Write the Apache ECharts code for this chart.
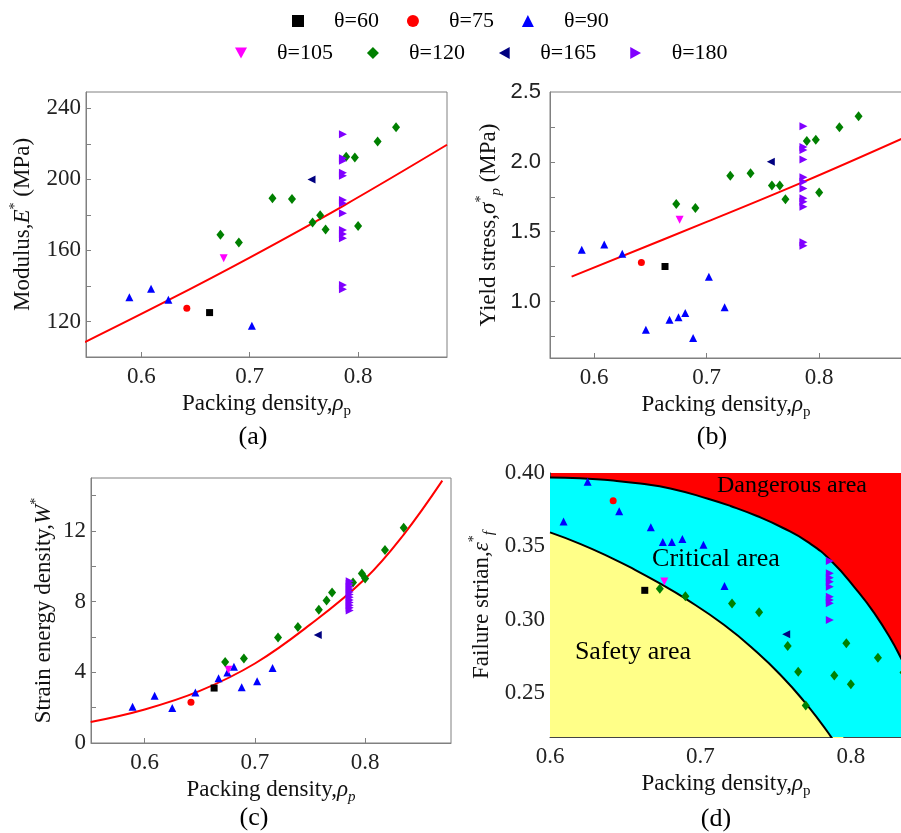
<!DOCTYPE html>
<html><head><meta charset="utf-8">
<script src="https://cdn.jsdelivr.net/npm/echarts@6/dist/echarts.min.js"></script>
<style>html,body{margin:0;padding:0;background:#fff}#c{width:901px;height:833px}</style>
</head><body><div id="c"></div>
<script>
const SERIF = '"Liberation Serif","Times New Roman",serif';
const SANS = '"Liberation Sans",Arial,sans-serif';

// ---- group names ----
const groupNames = ['θ=60', 'θ=75', 'θ=90', 'θ=105', 'θ=120', 'θ=165', 'θ=180'];

// ---- packing density (x) per group ----
const xT60 = [0.663];
const xT75 = [0.642];
const xT90 = [0.589, 0.609, 0.625, 0.646, 0.667, 0.675, 0.681, 0.688, 0.702, 0.716];
const xT105 = [0.676];
const xT120 = [0.673, 0.690, 0.721, 0.739, 0.758, 0.765, 0.770, 0.789, 0.797, 0.800, 0.818, 0.835];
const xT165 = [0.757];
const xT180 = 0.786;

// ---- (a) Modulus E* (MPa) ----
const E60 = [125];
const E75 = [127.5];
const E90 = [133.7, 138.4, 132.2, null, null, null, null, null, 117.6, null];
const E105 = [155.6];
const E120 = [168.8, 164.4, 189.4, 189.0, 175.7, 179.8, 171.8, 212.8, 212.3, 173.8, 221.3, 229.3];
const E165 = [200];
const E180 = [225.4, 211.9, 210.5, 203.8, 202.1, 188.4, 186.6, 180.9, 171.5, 169.3, 166.9, 140.6, 138.2];

// ---- (b) Yield stress (MPa) ----
const Y60 = [1.251];
const Y75 = [1.28];
const Y90 = [1.370, 1.408, 1.342, 0.798, 0.869, 0.888, 0.919, 0.739, 1.178, 0.960];
const Y105 = [1.586];
const Y120 = [1.698, 1.669, 1.900, 1.918, 1.831, 1.831, 1.733, 2.149, 2.158, 1.781, 2.248, 2.327];
const Y165 = [2.0];
const Y180 = [2.255, 2.107, 2.084, 2.017, 1.889, 1.857, 1.810, 1.739, 1.714, 1.679, 1.425, 1.400];

// ---- (c) Strain energy density W* ----
const W60 = [3.11];
const W75 = [2.30];
const W90 = [2.05, 2.68, 1.98, 2.86, 3.67, 3.99, 4.31, 3.15, 3.50, 4.24];
const W105 = [4.14];
const W120 = [4.58, 4.79, 5.97, 6.56, 7.54, 8.06, 8.52, 9.08, 9.59, 9.31, 10.93, 12.19];
const W165 = [6.12];
const W180 = [9.15, 9.0, 8.85, 8.7, 8.55, 8.4, 8.25, 8.1, 7.95, 7.8, 7.65, 7.5];

// ---- (d) Failure strain ----
const F60 = [0.320];
const F75 = [0.381];
const F90 = [null, 0.367, 0.394, 0.374, 0.363, 0.353, 0.353, 0.355, 0.351, 0.323];
const F105 = [0.326];
const F120 = [0.321, 0.316, 0.311, 0.305, 0.282, 0.2645, 0.2414, 0.262, 0.284, 0.256, 0.274, 0.264];
const F165 = [0.290];
const F180 = [0.340, 0.3316, 0.3286, 0.3259, 0.3224, 0.3156, 0.3134, 0.3112, 0.2998];

// ---- fitted curves / region boundaries ----
const fitA = [[0.548, 108.4], [0.625, 132], [0.7, 156], [0.786, 185], [0.882, 219.5]];
const fitB = [[0.580, 1.178], [0.7, 1.57], [0.786, 1.857], [0.874, 2.168]];
const fitC = [[0.551, 1.19], [0.6, 1.9], [0.65, 2.95], [0.7, 4.5], [0.75, 6.7], [0.8, 9.3], [0.835, 11.8], [0.87, 14.85]];
const upperBound = [[0.6, 0.397], [0.62, 0.3965], [0.64, 0.395], [0.66, 0.3928], [0.68, 0.3895], [0.705, 0.3825], [0.72, 0.3775], [0.738, 0.3705], [0.755, 0.3625], [0.771, 0.3532], [0.787, 0.340], [0.8045, 0.3195], [0.8156, 0.3045], [0.8267, 0.2865], [0.834, 0.2725], [0.84, 0.261]];
const lowerBound = [[0.6, 0.3595], [0.62, 0.3517], [0.64, 0.3425], [0.6565, 0.334], [0.6733, 0.3245], [0.689, 0.315], [0.7156, 0.2965], [0.7378, 0.2776], [0.755, 0.2604], [0.7689, 0.2443], [0.78, 0.2298], [0.7867, 0.2203], [0.795, 0.208]];

// ---- tick labels ----
const xTickLabels = [0.6, 0.7, 0.8];
const aYLabels = [120, 160, 200, 240];
const aYTicks = [120, 140, 160, 180, 200, 220, 240];
const bYLabels = [1.0, 1.5, 2.0, 2.5];
const bYTicks = [0.75, 1.0, 1.25, 1.5, 1.75, 2.0, 2.25];
const cYLabels = [0, 4, 8, 12];
const cYTicks = [2, 4, 6, 8, 10, 12, 14];
const dYLabels = [0.25, 0.30, 0.35, 0.40];
const dYTicks = [0.225, 0.25, 0.275, 0.30, 0.325, 0.35, 0.375];

const groupX = [xT60, xT75, xT90, xT105, xT120, xT165, xT180];
const panelY = [
  [E60, E75, E90, E105, E120, E165, E180],
  [Y60, Y75, Y90, Y105, Y120, Y165, Y180],
  [W60, W75, W90, W105, W120, W165, W180],
  [F60, F75, F90, F105, F120, F165, F180]
];

const groupStyle = [
  { symbol: 'rect', size: 7, color: '#000000' },
  { symbol: 'circle', size: 7, color: '#ff0000' },
  { symbol: 'triangle', size: 8, color: '#0000ff' },
  { symbol: 'path://M0,0L10,0L5,9Z', size: 8, color: '#ff00ff' },
  { symbol: 'diamond', size: [8, 10], color: '#008000' },
  { symbol: 'path://M9,0L9,10L0,5Z', size: 8, color: '#000080' },
  { symbol: 'path://M0,0L9,5L0,10Z', size: 8, color: '#8000ff' }
];

function pts(xs, ys) {
  const out = [];
  for (let i = 0; i < ys.length; i++) {
    const x = Array.isArray(xs) ? xs[i] : xs;
    if (ys[i] != null) out.push([x, ys[i]]);
  }
  return out;
}

const rich = {
  i: { fontFamily: SERIF, fontSize: 23, fontStyle: 'italic', lineHeight: 30 },
  sup: { fontFamily: SERIF, fontSize: 14, lineHeight: 14, verticalAlign: 'top' },
  sub: { fontFamily: SERIF, fontSize: 15, lineHeight: 15, verticalAlign: 'bottom' },
  subi: { fontFamily: SERIF, fontSize: 15, lineHeight: 15, verticalAlign: 'bottom', fontStyle: 'italic' }
};
const nameStyle = { fontFamily: SERIF, fontSize: 23, color: '#111', lineHeight: 30, rich: rich };

function xAxisCfg(gi, min, max, name, gap, labelFont, lineColor) {
  return {
    gridIndex: gi, type: 'value', min: min, max: max,
    axisLine: { show: true, onZero: false, lineStyle: { color: lineColor, width: 1 } },
    axisTick: { show: true, inside: true, length: 5, customValues: xTickLabels, lineStyle: { color: lineColor } },
    axisLabel: { customValues: xTickLabels, formatter: v => v.toFixed(1), fontFamily: labelFont, fontSize: labelFont === SANS ? 22 : 23, color: '#222', margin: 8 },
    splitLine: { show: false },
    name: name, nameLocation: 'middle', nameGap: gap, nameTextStyle: nameStyle
  };
}
function yAxisCfg(gi, min, max, labels, ticks, dec, name, gap, labelFont, lineColor) {
  return {
    gridIndex: gi, type: 'value', min: min, max: max,
    axisLine: { show: true, onZero: false, lineStyle: { color: lineColor, width: 1 } },
    axisTick: { show: true, inside: true, length: 5, customValues: ticks, lineStyle: { color: lineColor } },
    axisLabel: { customValues: labels, formatter: v => v.toFixed(dec), fontFamily: labelFont, fontSize: labelFont === SANS ? 22 : 23, color: '#222', margin: labelFont === SANS ? 9 : 5 },
    splitLine: { show: false },
    name: name, nameLocation: 'middle', nameGap: gap, nameTextStyle: nameStyle
  };
}

const series = [];
// panel d regions first (drawn below markers)
series.push({
  type: 'line', xAxisIndex: 3, yAxisIndex: 3, data: upperBound, smooth: 0.5, symbol: 'none', silent: true,
  lineStyle: { color: '#000', width: 2 }, areaStyle: { color: '#00ffff', opacity: 1, origin: 'start' }, z: 1
});
series.push({
  type: 'line', xAxisIndex: 3, yAxisIndex: 3, data: lowerBound, smooth: 0.5, symbol: 'none', silent: true,
  lineStyle: { color: '#000', width: 2 }, areaStyle: { color: '#ffff88', opacity: 1, origin: 'start' }, z: 2
});
// fit lines
[[fitA, 0], [fitB, 1], [fitC, 2]].forEach(([d, gi]) => {
  series.push({ type: 'line', xAxisIndex: gi, yAxisIndex: gi, data: d, smooth: 0.4, symbol: 'none', silent: true,
    lineStyle: { color: '#ff0000', width: 2 }, z: 3 });
});
// scatter groups
for (let p = 0; p < 4; p++) {
  for (let g = 0; g < groupNames.length; g++) {
    const st = groupStyle[g];
    series.push({
      type: 'scatter', name: groupNames[g], xAxisIndex: p, yAxisIndex: p,
      data: pts(groupX[g], panelY[p][g]), symbol: st.symbol, symbolSize: st.size,
      itemStyle: { color: st.color, opacity: 1 }, clip: p !== 3, z: 4
    });
  }
}

function txt(text, x, y, size) {
  return { type: 'text', x: x, y: y, z: 100,
    style: { text: text, fill: '#000', fontFamily: SERIF, fontSize: size, textAlign: 'center', textVerticalAlign: 'middle', align: 'center', verticalAlign: 'middle' } };
}

const legendText = { fontFamily: SERIF, fontSize: 22, color: '#000', padding: [0, 0, 0, 25] };

const option = {
  animation: false,
  backgroundColor: '#ffffff',
  legend: [
    { data: groupNames.slice(0, 3), left: 287, top: 5, orient: 'horizontal', itemWidth: 12, itemHeight: 12, itemGap: 28, selectedMode: false, textStyle: legendText },
    { data: groupNames.slice(3), left: 230, top: 37, orient: 'horizontal', itemWidth: 12, itemHeight: 12, itemGap: 34, selectedMode: false, textStyle: legendText }
  ],
  grid: [
    { left: 86, top: 92, width: 361, height: 265, show: true, borderColor: '#808080', borderWidth: 1, backgroundColor: 'transparent', outerBoundsMode: 'none' },
    { left: 550, top: 92, width: 352, height: 266, show: true, borderColor: '#808080', borderWidth: 1, backgroundColor: 'transparent', outerBoundsMode: 'none' },
    { left: 91, top: 478, width: 360, height: 265, show: true, borderColor: '#808080', borderWidth: 1, backgroundColor: 'transparent', outerBoundsMode: 'none' },
    { left: 550, top: 473, width: 352, height: 264, show: true, borderColor: '#ff0000', borderWidth: 0, backgroundColor: '#ff0000', outerBoundsMode: 'none' }
  ],
  xAxis: [
    xAxisCfg(0, 0.549, 0.882, 'Packing density,{i|ρ}{sub|p}', 28, SERIF, '#808080'),
    xAxisCfg(1, 0.5608, 0.8736, 'Packing density,{i|ρ}{sub|p}', 27, SERIF, '#808080'),
    xAxisCfg(2, 0.5513, 0.8779, 'Packing density,{i|ρ}{subi|p}', 22, SERIF, '#808080'),
    xAxisCfg(3, 0.6, 0.834, 'Packing density,{i|ρ}{sub|p}', 26, SERIF, '#444')
  ],
  yAxis: [
    yAxisCfg(0, 100, 249.2, aYLabels, aYTicks, 0, 'Modulus,{i|E}{sup|*} (MPa)', 48, SERIF, '#808080'),
    yAxisCfg(1, 0.596, 2.5, bYLabels, bYTicks, 1, 'Yield stress,{i|σ}{sup|*}{subi|p} (MPa)', 46, SANS, '#808080'),
    yAxisCfg(2, 0, 15, cYLabels, cYTicks, 0, 'Strain energy density,{i|W}{sup|*}', 29, SERIF, '#808080'),
    yAxisCfg(3, 0.22, 0.40, dYLabels, dYTicks, 2, 'Failure strian,{i|ε}{sup|*}{subi|f}', 53, SERIF, '#444')
  ],
  graphic: [
    txt('Dangerous area', 792, 486, 24),
    txt('Critical area', 716, 559, 26),
    txt('Safety area', 633, 652, 26),
    txt('(a)', 253, 437, 26),
    txt('(b)', 712, 437, 26),
    txt('(c)', 254, 818, 26),
    txt('(d)', 716, 819, 26)
  ],
  series: series
};

const chart = echarts.init(document.getElementById('c'), null, { renderer: 'canvas' });
chart.setOption(option);
</script>
</body></html>
